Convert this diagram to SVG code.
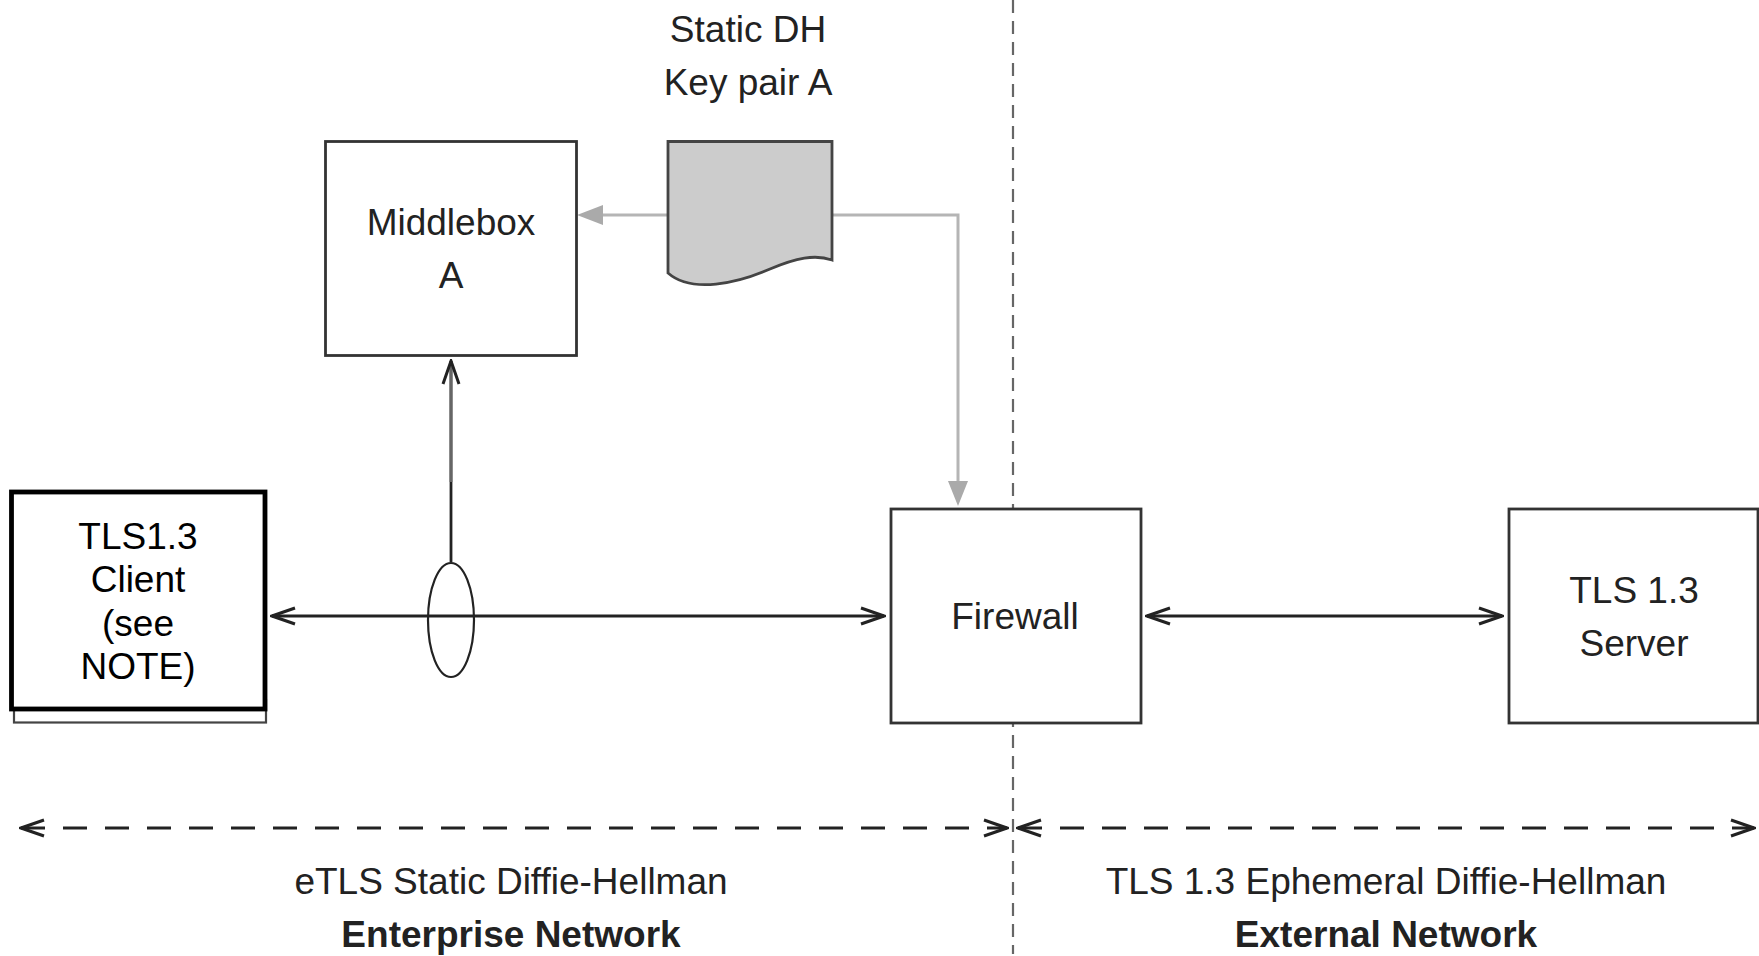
<svg xmlns="http://www.w3.org/2000/svg" width="1759" height="956" viewBox="0 0 1759 956">
<style>
text{font-family:"Liberation Sans",Arial,sans-serif;font-size:37px;text-anchor:middle;fill:#222}
.k{fill:#000}
.b{font-weight:bold}
.box{fill:#fff;stroke:#333;stroke-width:2.8}
.ln{fill:none;stroke:#222;stroke-width:2.8}
.gr{fill:none;stroke:#b5b5b5;stroke-width:3}
</style>
<defs>
<marker id="open" markerUnits="userSpaceOnUse" markerWidth="26" markerHeight="24" refX="24" refY="12" orient="auto-start-reverse"><path d="M1 4L24 12L1 20" fill="none" stroke="#222" stroke-width="3"/></marker>
</defs>
<rect width="1759" height="956" fill="#fff"/>
<g id="connectors">
<line x1="1013" y1="0" x2="1013" y2="954" fill="none" stroke="#666" stroke-width="2.2" stroke-dasharray="13 8"/>
<path class="ln" d="M21 828H1007" stroke-dasharray="24 18" marker-start="url(#open)" marker-end="url(#open)"/>
<path class="ln" d="M1018 828H1754" stroke-dasharray="24 18" marker-start="url(#open)" marker-end="url(#open)"/>
<path class="gr" d="M668 215H602"/>
<path d="M577 215L603 205V225Z" fill="#aaa"/>
<path class="gr" d="M832 215H958V482"/>
<path d="M958 506L948 481H968Z" fill="#aaa"/>
<path d="M451 482V361" fill="none" stroke="#666" stroke-width="3.500" marker-end="url(#open)"/>
<path class="ln" d="M451 482V562" stroke-width="2.200"/>
<path class="ln" d="M272 616H884" marker-start="url(#open)" marker-end="url(#open)"/>
<path class="ln" d="M1147 616H1502" marker-start="url(#open)" marker-end="url(#open)"/>
<ellipse cx="451" cy="620" rx="23" ry="57" fill="none" stroke="#222" stroke-width="2.200"/>
</g>
<g id="client">
<rect x="14" y="700" width="252" height="22.500" fill="#fff" stroke="#444" stroke-width="2.200"/>
<rect x="11.500" y="492" width="253.500" height="217" fill="#fff" stroke="#000" stroke-width="4.800"/>
<text class="k" x="138" y="549">TLS1.3</text>
<text class="k" x="138" y="592">Client</text>
<text class="k" x="138" y="636">(see</text>
<text class="k" x="138" y="679">NOTE)</text>
</g>
<g id="middlebox">
<rect class="box" x="325.500" y="141.500" width="251" height="214" stroke="#555"/>
<text x="451" y="235">Middlebox</text>
<text x="451" y="288">A</text>
</g>
<g id="keypair">
<path d="M668 141.500H832V260C815 254 796 258 770 269C738 283 692 294 668 273Z" fill="#ccc" stroke="#444" stroke-width="2.800"/>
<text x="748" y="42">Static DH</text>
<text x="748" y="95">Key pair A</text>
</g>
<g id="firewall">
<rect class="box" x="891" y="509" width="250" height="214"/>
<text x="1015" y="629">Firewall</text>
</g>
<g id="server">
<rect class="box" x="1509" y="509" width="249" height="214"/>
<text x="1634" y="603">TLS 1.3</text>
<text x="1634" y="656">Server</text>
</g>
<g id="labels">
<text x="511" y="894">eTLS Static Diffie-Hellman</text>
<text class="b" x="511" y="947">Enterprise Network</text>
<text x="1386" y="894">TLS 1.3 Ephemeral Diffie-Hellman</text>
<text class="b" x="1386" y="947">External Network</text>
</g>
</svg>
